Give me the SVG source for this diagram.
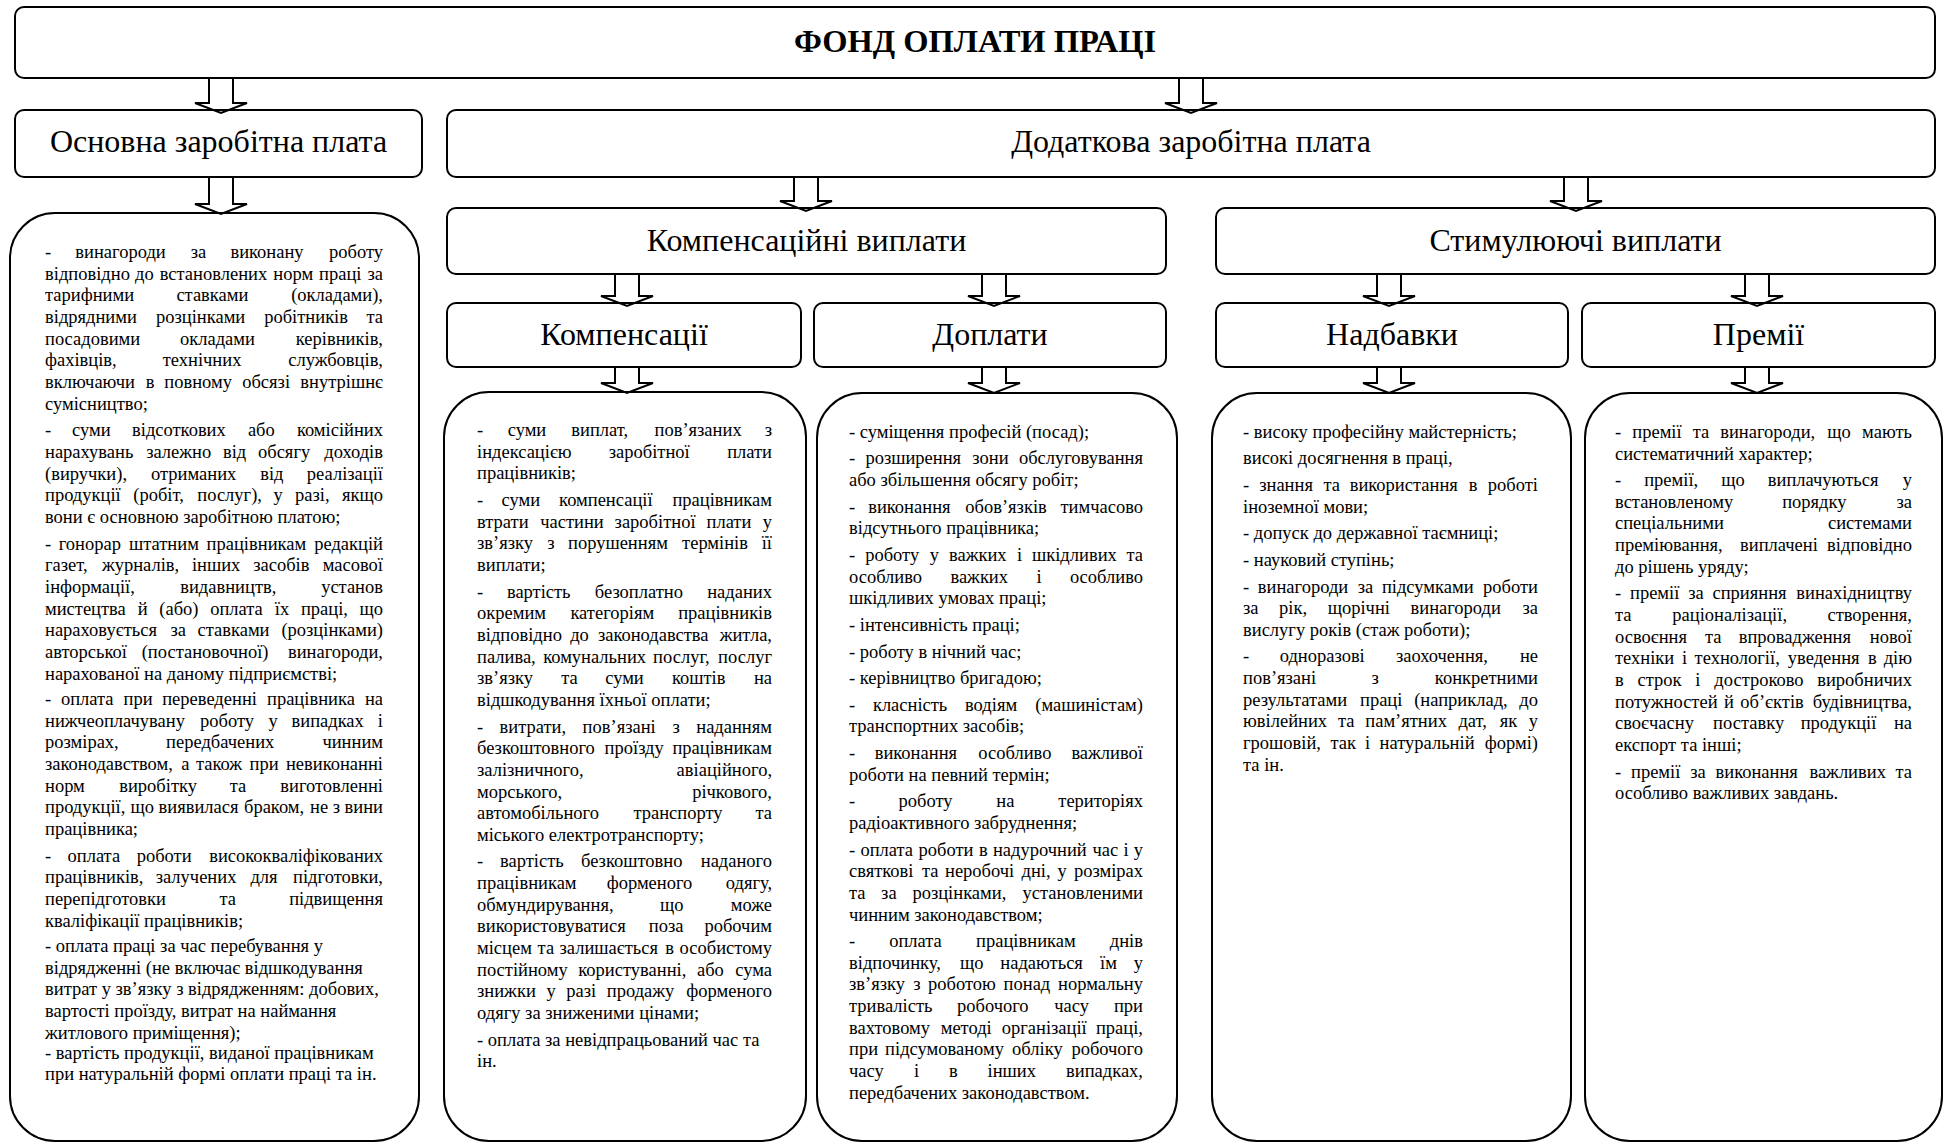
<svg xmlns="http://www.w3.org/2000/svg" width="1945" height="1143" viewBox="0 0 1945 1143">
  <style>
    .box { fill: #fff; stroke: #000; stroke-width: 2; }
    .arr { fill: none; stroke: #000; stroke-width: 2; stroke-linejoin: miter; }
    text { font-family: "Liberation Serif", "Times New Roman", serif; fill: #000; }
    .title { font-size: 32.5px; font-weight: bold; text-anchor: middle; }
    .h { font-size: 32px; text-anchor: middle; }
    .c { font-size: 18.5px; }
    .e { text-anchor: end; }
  </style>
  <rect width="1945" height="1143" fill="#fff"/>

  <!-- top node -->
  <g id="n-fund">
    <rect class="box" x="15" y="7" width="1920" height="71" rx="9"/>
    <text class="title" x="975" y="52">ФОНД ОПЛАТИ ПРАЦІ</text>
  </g>

  <!-- second level -->
  <g id="n-basic">
    <rect class="box" x="15" y="110" width="407" height="67" rx="9"/>
    <text class="h" x="218.5" y="152">Основна заробітна плата</text>
  </g>
  <g id="n-extra">
    <rect class="box" x="447" y="110" width="1488" height="67" rx="9"/>
    <text class="h" x="1191" y="152">Додаткова заробітна плата</text>
  </g>

  <!-- third level -->
  <g id="n-comp-pay">
    <rect class="box" x="447" y="208" width="719" height="66" rx="9"/>
    <text class="h" x="806.5" y="251">Компенсаційні виплати</text>
  </g>
  <g id="n-stim-pay">
    <rect class="box" x="1216" y="208" width="719" height="66" rx="9"/>
    <text class="h" x="1575.5" y="251">Стимулюючі виплати</text>
  </g>

  <!-- fourth level -->
  <g id="n-compensations">
    <rect class="box" x="447" y="303" width="354" height="64" rx="9"/>
    <text class="h" x="624" y="345">Компенсації</text>
  </g>
  <g id="n-surcharges">
    <rect class="box" x="814" y="303" width="352" height="64" rx="9"/>
    <text class="h" x="990" y="345">Доплати</text>
  </g>
  <g id="n-allowances">
    <rect class="box" x="1216" y="303" width="352" height="64" rx="9"/>
    <text class="h" x="1392" y="345">Надбавки</text>
  </g>
  <g id="n-bonuses">
    <rect class="box" x="1582" y="303" width="353" height="64" rx="9"/>
    <text class="h" x="1758.5" y="345">Премії</text>
  </g>

  <!-- list of basic wage items -->
  <g id="n-basic-list">
    <rect class="box" x="10" y="213" width="409" height="928" rx="45"/>
    <text class="c" y="257.8"><tspan x="45">-</tspan><tspan x="75.3">винагороди</tspan><tspan x="190.8">за</tspan><tspan x="230.4">виконану</tspan><tspan x="383" class="e">роботу</tspan></text>
    <text class="c" y="279.5"><tspan x="45">відповідно</tspan><tspan x="135.1">до</tspan><tspan x="159.7">встановлених</tspan><tspan x="273.3">норм</tspan><tspan x="319.1">праці</tspan><tspan x="383" class="e">за</tspan></text>
    <text class="c" y="301.2"><tspan x="45">тарифними</tspan><tspan x="176.4">ставками</tspan><tspan x="383" class="e">(окладами),</tspan></text>
    <text class="c" y="322.8"><tspan x="45">відрядними</tspan><tspan x="156">розцінками</tspan><tspan x="264.2">робітників</tspan><tspan x="383" class="e">та</tspan></text>
    <text class="c" y="344.5"><tspan x="45">посадовими</tspan><tspan x="180">окладами</tspan><tspan x="383" class="e">керівників,</tspan></text>
    <text class="c" y="366.2"><tspan x="45">фахівців,</tspan><tspan x="162.7">технічних</tspan><tspan x="383" class="e">службовців,</tspan></text>
    <text class="c" y="387.8"><tspan x="45">включаючи</tspan><tspan x="145.7">в</tspan><tspan x="164.3">повному</tspan><tspan x="242.2">обсязі</tspan><tspan x="383" class="e">внутрішнє</tspan></text>
    <text class="c" x="45" y="409.5">сумісництво;</text>
    <text class="c" y="436.2"><tspan x="45">-</tspan><tspan x="72.1">суми</tspan><tspan x="132">відсоткових</tspan><tspan x="247.9">або</tspan><tspan x="383" class="e">комісійних</tspan></text>
    <text class="c" y="457.8"><tspan x="45">нарахувань</tspan><tspan x="146.2">залежно</tspan><tspan x="222.9">від</tspan><tspan x="258">обсягу</tspan><tspan x="383" class="e">доходів</tspan></text>
    <text class="c" y="479.5"><tspan x="45">(виручки),</tspan><tspan x="151">отриманих</tspan><tspan x="260.2">від</tspan><tspan x="383" class="e">реалізації</tspan></text>
    <text class="c" y="501.2"><tspan x="45">продукції</tspan><tspan x="133.3">(робіт,</tspan><tspan x="197.3">послуг),</tspan><tspan x="273.6">у</tspan><tspan x="295">разі,</tspan><tspan x="383" class="e">якщо</tspan></text>
    <text class="c" x="45" y="522.8">вони є основною заробітною платою;</text>
    <text class="c" y="549.5"><tspan x="45">-</tspan><tspan x="58.7">гонорар</tspan><tspan x="129">штатним</tspan><tspan x="206.6">працівникам</tspan><tspan x="383" class="e">редакцій</tspan></text>
    <text class="c" y="571.2"><tspan x="45">газет,</tspan><tspan x="101.9">журналів,</tspan><tspan x="191.9">інших</tspan><tspan x="253.2">засобів</tspan><tspan x="383" class="e">масової</tspan></text>
    <text class="c" y="592.8"><tspan x="45">інформації,</tspan><tspan x="180.2">видавництв,</tspan><tspan x="383" class="e">установ</tspan></text>
    <text class="c" y="614.5"><tspan x="45">мистецтва</tspan><tspan x="137.7">й</tspan><tspan x="159.3">(або)</tspan><tspan x="210.2">оплата</tspan><tspan x="274.8">їх</tspan><tspan x="300.9">праці,</tspan><tspan x="383" class="e">що</tspan></text>
    <text class="c" y="636.2"><tspan x="45">нараховується</tspan><tspan x="170.5">за</tspan><tspan x="197.5">ставками</tspan><tspan x="383" class="e">(розцінками)</tspan></text>
    <text class="c" y="657.8"><tspan x="45">авторської</tspan><tspan x="141.7">(постановочної)</tspan><tspan x="383" class="e">винагороди,</tspan></text>
    <text class="c" x="45" y="679.5">нарахованої на даному підприємстві;</text>
    <text class="c" y="705"><tspan x="45">-</tspan><tspan x="60.9">оплата</tspan><tspan x="123.5">при</tspan><tspan x="162.2">переведенні</tspan><tspan x="267">працівника</tspan><tspan x="383" class="e">на</tspan></text>
    <text class="c" y="726.7"><tspan x="45">нижчеоплачувану</tspan><tspan x="200.1">роботу</tspan><tspan x="268.4">у</tspan><tspan x="291.5">випадках</tspan><tspan x="383" class="e">і</tspan></text>
    <text class="c" y="748.3"><tspan x="45">розмірах,</tspan><tspan x="166.1">передбачених</tspan><tspan x="383" class="e">чинним</tspan></text>
    <text class="c" y="770"><tspan x="45">законодавством,</tspan><tspan x="181.3">а</tspan><tspan x="195.9">також</tspan><tspan x="249.6">при</tspan><tspan x="383" class="e">невиконанні</tspan></text>
    <text class="c" y="791.7"><tspan x="45">норм</tspan><tspan x="119.2">виробітку</tspan><tspan x="229.7">та</tspan><tspan x="383" class="e">виготовленні</tspan></text>
    <text class="c" y="813.3"><tspan x="45">продукції,</tspan><tspan x="130.5">що</tspan><tspan x="158.5">виявилася</tspan><tspan x="244">браком,</tspan><tspan x="310.1">не</tspan><tspan x="332.8">з</tspan><tspan x="383" class="e">вини</tspan></text>
    <text class="c" x="45" y="835">працівника;</text>
    <text class="c" y="861.6"><tspan x="45">-</tspan><tspan x="67.5">оплата</tspan><tspan x="136.7">роботи</tspan><tspan x="383" class="e">висококваліфікованих</tspan></text>
    <text class="c" y="883.3"><tspan x="45">працівників,</tspan><tspan x="155.7">залучених</tspan><tspan x="250.4">для</tspan><tspan x="383" class="e">підготовки,</tspan></text>
    <text class="c" y="905"><tspan x="45">перепідготовки</tspan><tspan x="219.4">та</tspan><tspan x="383" class="e">підвищення</tspan></text>
    <text class="c" x="45" y="926.6">кваліфікації працівників;</text>
    <text class="c" x="45" y="952">- оплата праці за час перебування у</text>
    <text class="c" x="45" y="973.6">відрядженні (не включає відшкодування</text>
    <text class="c" x="45" y="995.3">витрат у зв’язку з відрядженням: добових,</text>
    <text class="c" x="45" y="1017">вартості проїзду, витрат на наймання</text>
    <text class="c" x="45" y="1038.6">житлового приміщення);</text>
    <text class="c" x="45" y="1058.5">- вартість продукції, виданої працівникам</text>
    <text class="c" x="45" y="1080">при натуральній формі оплати праці та ін.</text>
  </g>

  <!-- list of compensations -->
  <g id="n-compensations-list">
    <rect class="box" x="444" y="392" width="362" height="749" rx="45"/>
    <text class="c" y="436"><tspan x="477">-</tspan><tspan x="507.7">суми</tspan><tspan x="571.3">виплат,</tspan><tspan x="654.5">пов’язаних</tspan><tspan x="772" class="e">з</tspan></text>
    <text class="c" y="457.7"><tspan x="477">індексацією</tspan><tspan x="608.8">заробітної</tspan><tspan x="772" class="e">плати</tspan></text>
    <text class="c" x="477" y="479.3">працівників;</text>
    <text class="c" y="505.9"><tspan x="477">-</tspan><tspan x="501.6">суми</tspan><tspan x="559.1">компенсації</tspan><tspan x="772" class="e">працівникам</tspan></text>
    <text class="c" y="527.6"><tspan x="477">втрати</tspan><tspan x="540.2">частини</tspan><tspan x="614.6">заробітної</tspan><tspan x="706.5">плати</tspan><tspan x="772" class="e">у</tspan></text>
    <text class="c" y="549.3"><tspan x="477">зв’язку</tspan><tspan x="547.2">з</tspan><tspan x="568">порушенням</tspan><tspan x="682.1">термінів</tspan><tspan x="772" class="e">її</tspan></text>
    <text class="c" x="477" y="570.9">виплати;</text>
    <text class="c" y="597.5"><tspan x="477">-</tspan><tspan x="506.9">вартість</tspan><tspan x="594.8">безоплатно</tspan><tspan x="772" class="e">наданих</tspan></text>
    <text class="c" y="619.2"><tspan x="477">окремим</tspan><tspan x="570.4">категоріям</tspan><tspan x="772" class="e">працівників</tspan></text>
    <text class="c" y="640.9"><tspan x="477">відповідно</tspan><tspan x="570.2">до</tspan><tspan x="597.9">законодавства</tspan><tspan x="772" class="e">житла,</tspan></text>
    <text class="c" y="662.5"><tspan x="477">палива,</tspan><tspan x="543.2">комунальних</tspan><tspan x="653.1">послуг,</tspan><tspan x="772" class="e">послуг</tspan></text>
    <text class="c" y="684.2"><tspan x="477">зв’язку</tspan><tspan x="561.3">та</tspan><tspan x="605.2">суми</tspan><tspan x="671.9">коштів</tspan><tspan x="772" class="e">на</tspan></text>
    <text class="c" x="477" y="705.9">відшкодування їхньої оплати;</text>
    <text class="c" y="732.5"><tspan x="477">-</tspan><tspan x="499.5">витрати,</tspan><tspan x="582.6">пов’язані</tspan><tspan x="672.5">з</tspan><tspan x="772" class="e">наданням</tspan></text>
    <text class="c" y="754.2"><tspan x="477">безкоштовного</tspan><tspan x="604.6">проїзду</tspan><tspan x="772" class="e">працівникам</tspan></text>
    <text class="c" y="775.8"><tspan x="477">залізничного,</tspan><tspan x="772" class="e">авіаційного,</tspan></text>
    <text class="c" y="797.5"><tspan x="477">морського,</tspan><tspan x="772" class="e">річкового,</tspan></text>
    <text class="c" y="819.2"><tspan x="477">автомобільного</tspan><tspan x="633.4">транспорту</tspan><tspan x="772" class="e">та</tspan></text>
    <text class="c" x="477" y="840.8">міського електротранспорту;</text>
    <text class="c" y="867.4"><tspan x="477">-</tspan><tspan x="500">вартість</tspan><tspan x="581">безкоштовно</tspan><tspan x="772" class="e">наданого</tspan></text>
    <text class="c" y="889.1"><tspan x="477">працівникам</tspan><tspan x="606.7">форменого</tspan><tspan x="772" class="e">одягу,</tspan></text>
    <text class="c" y="910.8"><tspan x="477">обмундирування,</tspan><tspan x="659.9">що</tspan><tspan x="772" class="e">може</tspan></text>
    <text class="c" y="932.4"><tspan x="477">використовуватися</tspan><tspan x="648.8">поза</tspan><tspan x="772" class="e">робочим</tspan></text>
    <text class="c" y="954.1"><tspan x="477">місцем</tspan><tspan x="537.6">та</tspan><tspan x="559.5">залишається</tspan><tspan x="665.2">в</tspan><tspan x="772" class="e">особистому</tspan></text>
    <text class="c" y="975.8"><tspan x="477">постійному</tspan><tspan x="578.3">користуванні,</tspan><tspan x="697">або</tspan><tspan x="772" class="e">сума</tspan></text>
    <text class="c" y="997.4"><tspan x="477">знижки</tspan><tspan x="546.4">у</tspan><tspan x="566.3">разі</tspan><tspan x="606.8">продажу</tspan><tspan x="772" class="e">форменого</tspan></text>
    <text class="c" x="477" y="1019.1">одягу за зниженими цінами;</text>
    <text class="c" x="477" y="1045.7">- оплата за невідпрацьований час та</text>
    <text class="c" x="477" y="1067.4">ін.</text>
  </g>

  <!-- list of surcharges -->
  <g id="n-surcharges-list">
    <rect class="box" x="817" y="393" width="360" height="748" rx="45"/>
    <text class="c" x="849" y="437.8">- суміщення професій (посад);</text>
    <text class="c" y="464.4"><tspan x="849">-</tspan><tspan x="865.4">розширення</tspan><tspan x="972.3">зони</tspan><tspan x="1143" class="e">обслуговування</tspan></text>
    <text class="c" x="849" y="486.1">або збільшення обсягу робіт;</text>
    <text class="c" y="512.7"><tspan x="849">-</tspan><tspan x="868.2">виконання</tspan><tspan x="965.3">обов’язків</tspan><tspan x="1143" class="e">тимчасово</tspan></text>
    <text class="c" x="849" y="534.3">відсутнього працівника;</text>
    <text class="c" y="560.9"><tspan x="849">-</tspan><tspan x="865.2">роботу</tspan><tspan x="929.7">у</tspan><tspan x="949">важких</tspan><tspan x="1016.9">і</tspan><tspan x="1032">шкідливих</tspan><tspan x="1143" class="e">та</tspan></text>
    <text class="c" y="582.6"><tspan x="849">особливо</tspan><tspan x="950.4">важких</tspan><tspan x="1036.5">і</tspan><tspan x="1143" class="e">особливо</tspan></text>
    <text class="c" x="849" y="604.3">шкідливих умовах праці;</text>
    <text class="c" x="849" y="630.9">- інтенсивність праці;</text>
    <text class="c" x="849" y="657.5">- роботу в нічний час;</text>
    <text class="c" x="849" y="684.1">- керівництво бригадою;</text>
    <text class="c" y="710.7"><tspan x="849">-</tspan><tspan x="872.9">класність</tspan><tspan x="965">водіям</tspan><tspan x="1143" class="e">(машиністам)</tspan></text>
    <text class="c" x="849" y="732.3">транспортних засобів;</text>
    <text class="c" y="758.9"><tspan x="849">-</tspan><tspan x="874.7">виконання</tspan><tspan x="978.3">особливо</tspan><tspan x="1143" class="e">важливої</tspan></text>
    <text class="c" x="849" y="780.6">роботи на певний термін;</text>
    <text class="c" y="807.2"><tspan x="849">-</tspan><tspan x="898.5">роботу</tspan><tspan x="996.3">на</tspan><tspan x="1143" class="e">територіях</tspan></text>
    <text class="c" x="849" y="828.9">радіоактивного забруднення;</text>
    <text class="c" y="855.5"><tspan x="849">-</tspan><tspan x="860.4">оплата</tspan><tspan x="918.6">роботи</tspan><tspan x="979">в</tspan><tspan x="992.9">надурочний</tspan><tspan x="1092.5">час</tspan><tspan x="1123.5">і</tspan><tspan x="1143" class="e">у</tspan></text>
    <text class="c" y="877.1"><tspan x="849">святкові</tspan><tspan x="921.9">та</tspan><tspan x="945">неробочі</tspan><tspan x="1021.5">дні,</tspan><tspan x="1057.4">у</tspan><tspan x="1143" class="e">розмірах</tspan></text>
    <text class="c" y="898.8"><tspan x="849">та</tspan><tspan x="881.1">за</tspan><tspan x="912.4">розцінками,</tspan><tspan x="1143" class="e">установленими</tspan></text>
    <text class="c" x="849" y="920.5">чинним законодавством;</text>
    <text class="c" y="947.1"><tspan x="849">-</tspan><tspan x="889.2">оплата</tspan><tspan x="976.1">працівникам</tspan><tspan x="1143" class="e">днів</tspan></text>
    <text class="c" y="968.7"><tspan x="849">відпочинку,</tspan><tspan x="960.1">що</tspan><tspan x="1000.3">надаються</tspan><tspan x="1100">їм</tspan><tspan x="1143" class="e">у</tspan></text>
    <text class="c" y="990.4"><tspan x="849">зв’язку</tspan><tspan x="913.2">з</tspan><tspan x="928">роботою</tspan><tspan x="1003.6">понад</tspan><tspan x="1143" class="e">нормальну</tspan></text>
    <text class="c" y="1012.1"><tspan x="849">тривалість</tspan><tspan x="957">робочого</tspan><tspan x="1054.3">часу</tspan><tspan x="1143" class="e">при</tspan></text>
    <text class="c" y="1033.7"><tspan x="849">вахтовому</tspan><tspan x="940.7">методі</tspan><tspan x="1001.7">організації</tspan><tspan x="1143" class="e">праці,</tspan></text>
    <text class="c" y="1055.4"><tspan x="849">при</tspan><tspan x="885.1">підсумованому</tspan><tspan x="1012.1">обліку</tspan><tspan x="1143" class="e">робочого</tspan></text>
    <text class="c" y="1077.1"><tspan x="849">часу</tspan><tspan x="913.9">і</tspan><tspan x="948.9">в</tspan><tspan x="987.5">інших</tspan><tspan x="1143" class="e">випадках,</tspan></text>
    <text class="c" x="849" y="1098.7">передбачених законодавством.</text>
  </g>

  <!-- list of allowances -->
  <g id="n-allowances-list">
    <rect class="box" x="1212" y="393" width="359" height="748" rx="45"/>
    <text class="c" x="1243" y="437.8">- високу професійну майстерність;</text>
    <text class="c" x="1243" y="464.4">високі досягнення в праці,</text>
    <text class="c" y="491"><tspan x="1243">-</tspan><tspan x="1259.2">знання</tspan><tspan x="1323.4">та</tspan><tspan x="1349.7">використання</tspan><tspan x="1468.7">в</tspan><tspan x="1538" class="e">роботі</tspan></text>
    <text class="c" x="1243" y="512.7">іноземної мови;</text>
    <text class="c" x="1243" y="539.3">- допуск до державної таємниці;</text>
    <text class="c" x="1243" y="565.9">- науковий ступінь;</text>
    <text class="c" y="592.5"><tspan x="1243">-</tspan><tspan x="1257.8">винагороди</tspan><tspan x="1357.8">за</tspan><tspan x="1381.9">підсумками</tspan><tspan x="1538" class="e">роботи</tspan></text>
    <text class="c" y="614.2"><tspan x="1243">за</tspan><tspan x="1279.1">рік,</tspan><tspan x="1327.7">щорічні</tspan><tspan x="1410.5">винагороди</tspan><tspan x="1538" class="e">за</tspan></text>
    <text class="c" x="1243" y="635.8">вислугу років (стаж роботи);</text>
    <text class="c" y="662.4"><tspan x="1243">-</tspan><tspan x="1279.7">одноразові</tspan><tspan x="1395.9">заохочення,</tspan><tspan x="1538" class="e">не</tspan></text>
    <text class="c" y="684.1"><tspan x="1243">пов’язані</tspan><tspan x="1371.6">з</tspan><tspan x="1538" class="e">конкретними</tspan></text>
    <text class="c" y="705.8"><tspan x="1243">результатами</tspan><tspan x="1360">праці</tspan><tspan x="1414.2">(наприклад,</tspan><tspan x="1538" class="e">до</tspan></text>
    <text class="c" y="727.4"><tspan x="1243">ювілейних</tspan><tspan x="1338">та</tspan><tspan x="1365.3">пам’ятних</tspan><tspan x="1458.4">дат,</tspan><tspan x="1499.7">як</tspan><tspan x="1538" class="e">у</tspan></text>
    <text class="c" y="749.1"><tspan x="1243">грошовій,</tspan><tspan x="1330.4">так</tspan><tspan x="1365.1">і</tspan><tspan x="1379.6">натуральній</tspan><tspan x="1538" class="e">формі)</tspan></text>
    <text class="c" x="1243" y="770.8">та ін.</text>
  </g>

  <!-- list of bonuses -->
  <g id="n-bonuses-list">
    <rect class="box" x="1585" y="393" width="357" height="748" rx="45"/>
    <text class="c" y="437.8"><tspan x="1615">-</tspan><tspan x="1632.3">премії</tspan><tspan x="1692.8">та</tspan><tspan x="1720.2">винагороди,</tspan><tspan x="1827.3">що</tspan><tspan x="1912" class="e">мають</tspan></text>
    <text class="c" x="1615" y="459.5">систематичний характер;</text>
    <text class="c" y="486.1"><tspan x="1615">-</tspan><tspan x="1644.2">премії,</tspan><tspan x="1721.3">що</tspan><tspan x="1767.8">виплачуються</tspan><tspan x="1912" class="e">у</tspan></text>
    <text class="c" y="507.7"><tspan x="1615">встановленому</tspan><tspan x="1782.2">порядку</tspan><tspan x="1912" class="e">за</tspan></text>
    <text class="c" y="529.4"><tspan x="1615">спеціальними</tspan><tspan x="1912" class="e">системами</tspan></text>
    <text class="c" y="551.1"><tspan x="1615">преміювання,</tspan><tspan x="1740">виплачені</tspan><tspan x="1912" class="e">відповідно</tspan></text>
    <text class="c" x="1615" y="572.7">до рішень уряду;</text>
    <text class="c" y="599.3"><tspan x="1615">-</tspan><tspan x="1630">премії</tspan><tspan x="1688.2">за</tspan><tspan x="1712.5">сприяння</tspan><tspan x="1912" class="e">винахідництву</tspan></text>
    <text class="c" y="621"><tspan x="1615">та</tspan><tspan x="1672.3">раціоналізації,</tspan><tspan x="1912" class="e">створення,</tspan></text>
    <text class="c" y="642.7"><tspan x="1615">освоєння</tspan><tspan x="1704.9">та</tspan><tspan x="1738.7">впровадження</tspan><tspan x="1912" class="e">нової</tspan></text>
    <text class="c" y="664.3"><tspan x="1615">техніки</tspan><tspan x="1682">і</tspan><tspan x="1694.6">технології,</tspan><tspan x="1787.8">уведення</tspan><tspan x="1867.9">в</tspan><tspan x="1912" class="e">дію</tspan></text>
    <text class="c" y="686"><tspan x="1615">в</tspan><tspan x="1637.6">строк</tspan><tspan x="1695.3">і</tspan><tspan x="1714.3">достроково</tspan><tspan x="1912" class="e">виробничих</tspan></text>
    <text class="c" y="707.7"><tspan x="1615">потужностей</tspan><tspan x="1724.1">й</tspan><tspan x="1740.3">об’єктів</tspan><tspan x="1912" class="e">будівництва,</tspan></text>
    <text class="c" y="729.3"><tspan x="1615">своєчасну</tspan><tspan x="1713.1">поставку</tspan><tspan x="1800.7">продукції</tspan><tspan x="1912" class="e">на</tspan></text>
    <text class="c" x="1615" y="751">експорт та інші;</text>
    <text class="c" y="777.6"><tspan x="1615">-</tspan><tspan x="1631">премії</tspan><tspan x="1690.2">за</tspan><tspan x="1715.5">виконання</tspan><tspan x="1809.4">важливих</tspan><tspan x="1912" class="e">та</tspan></text>
    <text class="c" x="1615" y="799.3">особливо важливих завдань.</text>
  </g>

  <!-- hollow block arrows between levels -->
  <g id="connectors">
    <path class="arr" d="M209 78 V103 H195 L221 113 L247 103 H233 V78"/>
    <path class="arr" d="M1179 78 V103 H1165 L1191 113 L1217 103 H1203 V78"/>
    <path class="arr" d="M209 177 V204 H195 L221 214 L247 204 H233 V177"/>
    <path class="arr" d="M794 177 V201 H780 L806 211 L832 201 H818 V177"/>
    <path class="arr" d="M1564 177 V201 H1550 L1576 211 L1602 201 H1588 V177"/>
    <path class="arr" d="M615 274 V296 H601 L627 306 L653 296 H639 V274"/>
    <path class="arr" d="M982 274 V296 H968 L994 306 L1020 296 H1006 V274"/>
    <path class="arr" d="M1377 274 V296 H1363 L1389 306 L1415 296 H1401 V274"/>
    <path class="arr" d="M1745 274 V296 H1731 L1757 306 L1783 296 H1769 V274"/>
    <path class="arr" d="M615 367 V383 H601 L627 393 L653 383 H639 V367"/>
    <path class="arr" d="M982 367 V383 H968 L994 393 L1020 383 H1006 V367"/>
    <path class="arr" d="M1377 367 V383 H1363 L1389 393 L1415 383 H1401 V367"/>
    <path class="arr" d="M1745 367 V383 H1731 L1757 393 L1783 383 H1769 V367"/>
  </g>
</svg>
